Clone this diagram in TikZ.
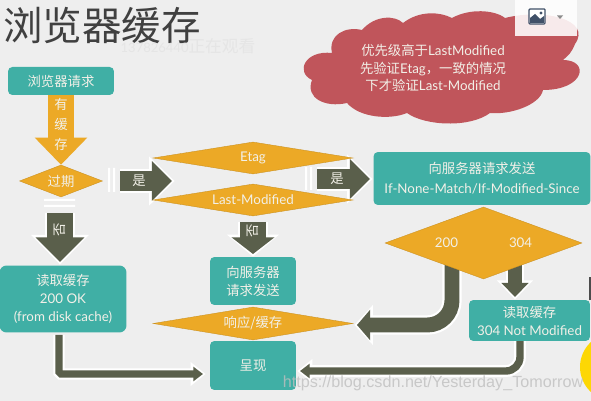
\documentclass[tikz,border=0pt]{standalone}
\usepackage{fontspec}
\setmainfont{Lato}
\newfontfamily\cjk{Noto Sans CJK SC}
\usetikzlibrary{arrows.meta, shapes.geometric, backgrounds}
\definecolor{PageGrey}{RGB}{238, 238, 238}
\definecolor{SlideTeal}{RGB}{64, 175, 165}
\definecolor{SlideAmber}{RGB}{236, 169, 38}
\definecolor{MossDark}{RGB}{90, 95, 75}
\definecolor{CloudRed}{RGB}{192, 85, 91}
\definecolor{SoftWhite}{RGB}{242, 240, 232}
\definecolor{IconSlate}{RGB}{64, 80, 104}

\begin{document}
\begin{tikzpicture}[
        x=0.02cm, y=-0.02cm,
        box/.style={fill=SlideTeal, rounded corners=2.5pt, inner sep=0pt, text=SoftWhite, align=center, font=\fontsize{7.6}{10.2}\selectfont},
        choice/.style={shape=diamond, fill=SlideAmber, draw=SlideAmber!85!black, line width=0.2pt, inner sep=0pt, text=SoftWhite, font=\fontsize{7.6}{10.2}\selectfont},
        word/.style={inner sep=0pt, text=SoftWhite, align=center, font=\fontsize{7.6}{10.2}\selectfont},
        flow/.style n args={3}{line width=#1pt, -{Triangle[width=#2pt,length=#3pt]}},
        halo/.style n args={3}{preaction={draw=white, shorten >=-1.5pt, line width=#1pt+2.5pt, -{Triangle[width=#2pt+5pt,length=#3pt+3pt]}}},
        darkflow/.style n args={3}{flow={#1}{#2}{#3}, halo={#1}{#2}{#3}, MossDark}
    ]
        \useasboundingbox (0,0) rectangle (591,401);

        % Title and the faint viewer count behind it
        \node[inner sep=0pt, text=black!75, font=\fontsize{22.5}{24}\selectfont\cjk] (title) at (102,26) {浏览器缓存};
        \node[inner sep=0pt, text=black!10, font=\fontsize{9.5}{11}\selectfont] (viewers) at (188,46) {\fontsize{7.4}{11}\selectfont 137826440{\fontsize{9.5}{11}\selectfont\cjk 正在观看}};

        % Cloud note
        \fill[CloudRed] (312,80) .. controls (295,72) and (305,50) .. (332,53)
            .. controls (328,35) and (345,26) .. (362,30)
            .. controls (375,15) and (395,15) .. (403,23)
            .. controls (420,10) and (440,12) .. (452,18)
            .. controls (470,8) and (495,10) .. (505,18)
            .. controls (545,8) and (592,20) .. (575,44)
            .. controls (572,52) and (568,56) .. (563,60)
            .. controls (590,60) and (585,90) .. (543,90)
            .. controls (540,105) and (510,115) .. (490,113)
            .. controls (470,128) and (425,126) .. (407,113)
            .. controls (390,120) and (360,118) .. (347,103)
            .. controls (325,108) and (305,98) .. (312,80) -- cycle;
        \node[word] (note) at (433,68) {{\cjk 优先级高于}LastModified\\[-0.4pt]{\cjk 先验证}Etag{\cjk ，一致的情况}\\[-0.4pt]{\cjk 下才验证}Last-Modified};

        % Picture widget, top right
        \fill[white, opacity=0.88] (515,0) rectangle (577,36);
        \draw[IconSlate, line width=0.7pt, fill=white, rounded corners=0.5pt] (529,9) rectangle (545,24);
        \fill[IconSlate] (530,23) -- (530,18) -- (535,14) -- (540,19) -- (544,16) -- (544,23) -- cycle;
        \fill[IconSlate] (541,13) circle (1.6);
        \fill[black!45] (557,15.5) -- (563,15.5) -- (560,19) -- cycle;

        % Left column
        \node[box, minimum width=2.12cm, minimum height=0.56cm] (request) at (61,81) {\cjk 浏览器请求};
        \node[word] (hascache) at (61,124) {\cjk 有\\[1.2pt]\cjk 缓\\[1.2pt]\cjk 存};
        \node[choice, aspect=2.6, minimum width=1.66cm, minimum height=0.64cm] (expired) at (61,181) {\cjk 过期};
        \node[word] (yes1) at (139,181) {\cjk 是};
        \node[box, minimum width=2.54cm, minimum height=1.34cm, rounded corners=4pt] (disk) at (63,299) {{\cjk 读取缓存}\\200 OK\\(from disk cache)};
        \node[word, rotate=90] (no1) at (60,230) {\cjk 否};

        % Middle column
        \node[choice, aspect=6, minimum width=4cm, minimum height=0.64cm] (etag) at (253,158) {Etag};
        \node[choice, aspect=6, minimum width=4cm, minimum height=0.64cm] (lastmod) at (253,200) {Last-Modified};
        \node[word] (yes2) at (337,179) {\cjk 是};
        \node[word, rotate=90] (no2) at (253,231) {\cjk 否};
        \node[box, minimum width=1.72cm, minimum height=0.96cm] (ask) at (253,281) {{\cjk 向服务器}\\{\cjk 请求发送}};
        \node[choice, aspect=6, minimum width=4cm, minimum height=0.66cm] (store) at (253,323.5) {\cjk 响应/缓存};
        \node[box, minimum width=1.72cm, minimum height=0.98cm] (show) at (253,365.5) {\cjk 呈现};

        % Right column
        \node[box, minimum width=4.34cm, minimum height=1.06cm] (send) at (482,178.5) {{\cjk 向服务器请求发送}\\[1pt]If-None-Match/If-Modified-Since};
        \node[choice, aspect=2.7, minimum width=3.94cm, minimum height=1.44cm] (status) at (483.5,243) {200\hspace{1.02cm}304};
        \node[box, minimum width=2.42cm, minimum height=0.82cm] (notmod) at (529.5,320.5) {{\cjk 读取缓存}\\304 Not Modified};

        % Free ends of the block arrows
        \coordinate (yes1from) at (120,181);
        \coordinate (yes1to) at (172,181);
        \coordinate (yes2from) at (317,179);
        \coordinate (yes2to) at (370,179);
        \coordinate (no1from) at (60,213);
        \coordinate (no1to) at (60,262);
        \coordinate (no2from) at (253,222);
        \coordinate (no2to) at (253,254);
        \coordinate (ok200) at (452,260);
        \coordinate (ok304) at (515,262);
        \coordinate (to304) at (515,297);
        \coordinate (tostore) at (357,325);
        \coordinate (fromdisk) at (59,335);
        \coordinate (todisk) at (203,374);
        \coordinate (fromnot) at (520,341);
        \coordinate (tonot) at (300,371);

        \begin{scope}[on background layer]
            \fill[PageGrey] (0,0) rectangle (591,401);
            % Block arrows
            \draw[flow={15.3}{29}{15.5}, SlideAmber] (request.south) -- (expired.north);
            \draw[darkflow={11.5}{22}{11.5}] (yes1from) -- (yes1to);
            \draw[darkflow={11.5}{22}{11.5}] (yes2from) -- (yes2to);
            \draw[darkflow={15}{27}{14}] (no1from) -- (no1to);
            \draw[darkflow={15}{24}{9.5}] (no2from) -- (no2to);
            \draw[darkflow={8}{15}{8}] (ok304) -- (to304);
            \draw[darkflow={8.5}{17}{7.5}, rounded corners=14pt] (ok200) |- (tostore);
            \draw[darkflow={4}{8}{5.5}, rounded corners=1pt] (fromdisk) |- (todisk);
            \draw[darkflow={4.2}{8}{5.5}, rounded corners=8pt] (fromnot) |- (tonot);
            % White tail bars of the arrows
            \fill[white] (108,168) rectangle (110,192) (113,168) rectangle (115,192);
            \fill[white] (305,167) rectangle (307,190) (310,167) rectangle (312,190);
            \fill[white] (44,199) rectangle (75,201) (44,205) rectangle (75,207);
            % Yellow edge and dark bar on the right
            \fill[black!70] (589,277) rectangle (591,300);
            \fill[yellow!75!orange] (614,367) circle (34);
        \end{scope}

        % Link printed over the slide
        \node[inner sep=0pt, text=black!25, opacity=0.8, font=\fontsize{9.2}{11}\selectfont\fontspec{Liberation Sans}] (link) at (433,383) {https://blog.csdn.net/Yesterday\_Tomorrow};
    \end{tikzpicture}
\end{document}
